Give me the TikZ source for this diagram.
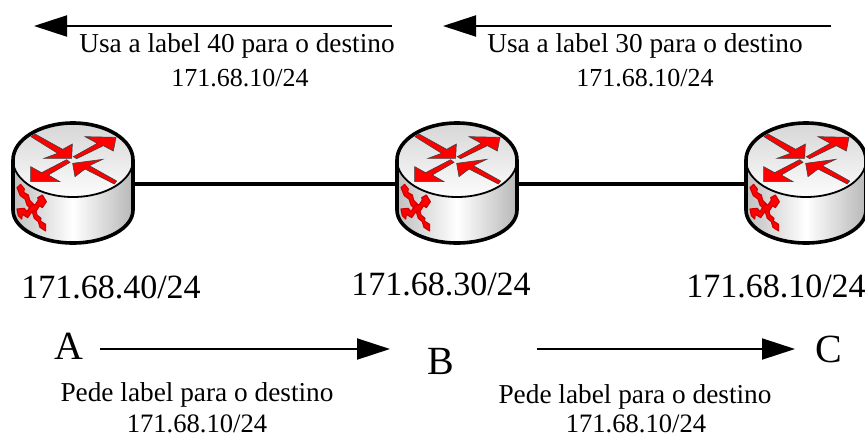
\documentclass[tikz,border=0pt]{standalone}
\usepackage{fontspec}
\setmainfont{Liberation Serif}
\usetikzlibrary{arrows.meta}
\tikzset{
  link/.style={line width=3.6pt,black},
  flow/.style={line width=2pt,black,-{Triangle[length=33pt,width=21pt]},shorten >=0pt},
  small/.style={font=\fontsize{26}{30}\selectfont,anchor=base,inner sep=0pt},
  smallb/.style={font=\fontsize{26.6}{30}\selectfont,anchor=base,inner sep=0pt},
  words/.style={font=\fontsize{27.3}{30}\selectfont,anchor=base,inner sep=0pt},
  big/.style={font=\fontsize{34}{38}\selectfont,anchor=base,inner sep=0pt},
  letter/.style={font=\fontsize{40}{44}\selectfont,anchor=base,inner sep=0pt},
  anchorpt/.style={inner sep=0pt,minimum size=0pt},
  redpoly/.style={fill=red,draw=black!75,line width=.6pt,line join=miter},
  redcross/.style={fill=red,draw=red!80!black,line width=1.1pt,line join=round},
  router/.pic={
    \shade[left color=black!25,right color=black!28,middle color=white]
      (-60,0) -- (-60,50) arc[start angle=180,end angle=360,x radius=60pt,y radius=33pt] -- (60,0) -- cycle;
    \shade[top color=black!16,bottom color=black!1]
      (0,0) ellipse[x radius=60pt,y radius=37pt];
    \draw[line width=1.8pt] (-60,0) arc[start angle=180,end angle=360,x radius=60pt,y radius=37pt];
    \draw[line width=3.6pt,line join=round]
      (-60,0) arc[start angle=180,end angle=0,x radius=60pt,y radius=37pt]
      -- (60,50) arc[start angle=360,end angle=180,x radius=60pt,y radius=33pt] -- cycle;
    \begin{scope}[shift={(-53,-35)},x=.3333pt,y=.3333pt]
      \path[redpoly] (45,-27)--(128,-73)--(157,-57)--(155,-100)--(72,-100)--(113,-85)--(33,-35)--cycle;
      \path[redpoly] (160,-95)--(232,-55)--(195,-35)--(288,-37)--(280,-78)--(250,-62)--(170,-101)--cycle;
      \path[redpoly] (140,-104)--(150,-112)--(85,-150)--(120,-170)--(32,-170)--(32,-125)--(65,-143)--cycle;
      \path[redpoly] (290,-168)--(283,-177)--(195,-132)--(165,-155)--(158,-115)--(248,-103)--(208,-122)--cycle;
    \end{scope}
    \begin{scope}[shift={(-68,15)},x=.3333pt,y=.3333pt]
      \path[redcross] (47,-28)--(58,-42)--(56,-52)--(70,-60)--(74,-76)--(88,-90)--(96,-120)--(108,-130)--(106,-138)--(122,-148)--(122,-168)--(105,-157)--(100,-140)--(88,-130)--(80,-105)--(66,-90)--(60,-72)--(46,-62)--(36,-38)--cycle;
      \path[redcross] (36,-102)--(58,-100)--(66,-110)--(80,-88)--(90,-90)--(100,-75)--(98,-68)--(112,-60)--(124,-80)--(112,-98)--(104,-92)--(92,-110)--(82,-108)--(68,-128)--(52,-118)--(50,-132)--(40,-122)--cycle;
    \end{scope}
  }
}
\begin{document}
\begin{tikzpicture}[x=1pt,y=-1pt]
\useasboundingbox (0,0) rectangle (865,437);
\clip (0,0) rectangle (865,437);
\node[anchorpt] (ra) at (73,184) {};
\node[anchorpt] (rb) at (457,184) {};
\node[anchorpt] (rc) at (806,184) {};
\draw[link] (ra) -- (rb);
\draw[link] (rb) -- (rc);
\pic at (73,160) {router};
\pic at (457,160) {router};
\pic at (806,160) {router};
\coordinate (t1s) at (392,26); \coordinate (t1e) at (34,26);
\coordinate (t2s) at (831,26); \coordinate (t2e) at (443,26);
\coordinate (b1s) at (100,349); \coordinate (b1e) at (390,349);
\coordinate (b2s) at (537,349); \coordinate (b2e) at (795,349);
\draw[flow] (t1s) -- (t1e);
\draw[flow] (t2s) -- (t2e);
\draw[flow] (b1s) -- (b1e);
\draw[flow] (b2s) -- (b2e);
\node[words] (u1) at (237,52) {Usa a label 40 para o destino};
\node[small] (u1b) at (240,86) {171.68.10/24};
\node[words] (u2) at (645,52) {Usa a label 30 para o destino};
\node[small] (u2b) at (645,86) {171.68.10/24};
\node[big] (na) at (111,298) {171.68.40/24};
\node[big] (nb) at (441,295) {171.68.30/24};
\node[big] (nc) at (776,297) {171.68.10/24};
\node[letter] (la) at (69,359) {A};
\node[letter] (lb) at (441,374) {B};
\node[letter] (lc) at (829,362) {C};
\node[words] (p1) at (197,401) {Pede label para o destino};
\node[smallb] (p1b) at (197,432) {171.68.10/24};
\node[words] (p2) at (635,403) {Pede label para o destino};
\node[smallb] (p2b) at (636,432) {171.68.10/24};
\end{tikzpicture}
\end{document}
